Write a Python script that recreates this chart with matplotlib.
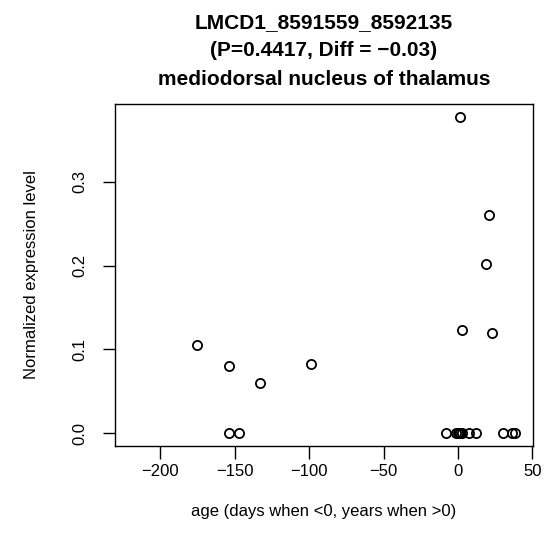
import matplotlib
matplotlib.use("Agg")
import matplotlib.pyplot as plt

plt.rcParams['font.family'] = ['Liberation Sans', 'DejaVu Sans']

# data
age = [-175.4, -153.7, -132.9, -98.9, 1.1, 20.8, 19.0, 2.9, 23.0,
       -153.7, -146.8, -7.8, -1.5, 0.0, 0.6, 1.6, 2.6, 7.5, 12.0, 30.0, 36.0, 38.0]
expr = [0.105, 0.080, 0.060, 0.083, 0.378, 0.260, 0.202, 0.1227, 0.1195,
        0.0, 0.0, 0.0, 0.0, 0.0, 0.0, 0.0, 0.0, 0.0, 0.0, 0.0, 0.0, 0.0]
xticks = [-200, -150, -100, -50, 0, 50]
yticks = [0.0, 0.1, 0.2, 0.3]
title_lines = ["LMCD1_8591559_8592135", "(P=0.4417, Diff = \u22120.03)",
               "mediodorsal nucleus of thalamus"]

fig = plt.figure(figsize=(5.47, 5.55), dpi=100)
ax = fig.add_axes([0.2102, 0.1969, 0.7642, 0.6157])
ax.plot(age, expr, linestyle='none', marker='o', markersize=6.6,
        markerfacecolor='none', markeredgecolor='black', markeredgewidth=1.3)

ax.set_xlim(-230.4, 50.4)
ax.set_ylim(-0.0151, 0.393)
ax.set_xticks(xticks)
ax.set_xticklabels([str(t).replace('-', '\u2212') for t in xticks])
ax.set_yticks(yticks)
ax.set_yticklabels(["%.1f" % t for t in yticks], rotation=90, va='center')
ax.tick_params(axis='both', direction='out', length=9, width=1.0, labelsize=12)
ax.tick_params(axis='x', pad=4)
ax.tick_params(axis='y', pad=11)
for s in ax.spines.values():
    s.set_linewidth(1.0)

ax.set_xlabel("age (days when <0, years when >0)", fontsize=12, labelpad=18)
ax.set_ylabel("Normalized expression level", fontsize=12, labelpad=24)
ax.set_title("\n".join(title_lines), fontsize=15, fontweight='bold',
             linespacing=1.62, pad=14)

fig.savefig("out.png", dpi=100)
